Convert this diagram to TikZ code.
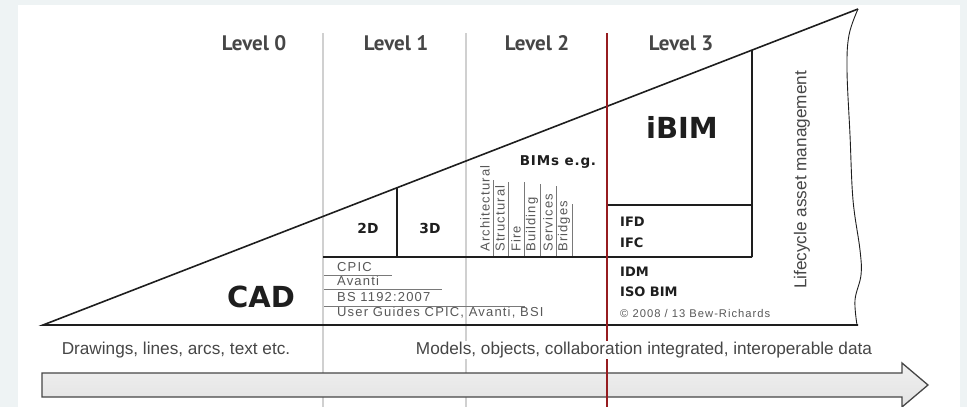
\documentclass[tikz,border=0pt]{standalone}
\usepackage{fontspec}
\setmainfont{Liberation Sans}
\newfontfamily\levelfont{PT Sans}
\newfontfamily\listfont[LetterSpace=9]{Liberation Sans}
\newfontfamily\tagfont{DejaVu Sans}
\newfontfamily\spacedtagfont[LetterSpace=6]{DejaVu Sans}
\usepackage{tikz}
\usetikzlibrary{calc}

\definecolor{bgblue}{RGB}{238,243,244}
\definecolor{bimred}{RGB}{150,28,32}
\definecolor{rulegray}{RGB}{208,208,208}
\definecolor{textgray}{RGB}{70,70,70}
\definecolor{listgray}{RGB}{88,88,88}
\definecolor{linedark}{RGB}{30,30,30}

\tikzset{
  levellabel/.style={font=\levelfont\bfseries\fontsize{21}{21}\selectfont, text=textgray},
  bigword/.style={font=\tagfont\bfseries\fontsize{29}{29}\selectfont, text=linedark},
  tagword/.style={font=\tagfont\bfseries\fontsize{13}{13}\selectfont, text=linedark, inner sep=0pt},
  listitem/.style={font=\listfont\fontsize{13}{13}\selectfont, text=listgray, anchor=west, inner sep=0pt},
  sideitem/.style={listitem, rotate=90},
  caption/.style={font=\fontsize{17.2}{17.2}\selectfont, text=textgray},
  frameline/.style={draw=linedark, line width=1.6pt},
  underline/.style={draw=listgray!80, line width=0.7pt},
}

\begin{document}
\begin{tikzpicture}[x=1pt, y=-1pt]
\useasboundingbox (0,0) rectangle (967,407);
\fill[bgblue] (0,0) rectangle (967,407);
\fill[white] (18,5) rectangle (960,407);

% level columns
\draw[rulegray, line width=1.8pt] (323,33) -- (323,407);
\draw[rulegray, line width=1.8pt] (466,33) -- (466,407);

\node[levellabel] (lv0) at (254,43) {Level 0};
\node[levellabel] (lv1) at (396,43) {Level 1};
\node[levellabel] (lv2) at (537,43) {Level 2};
\node[levellabel] (lv3) at (681,43) {Level 3};

% the wedge
\coordinate (cadtip) at (43,325);
\coordinate (apex) at (858,9);
\coordinate (baseend) at (858,325);
\draw[frameline] (baseend) -- (cadtip) -- (apex);
\draw[linedark, line width=0.9pt] plot[smooth, tension=0.6] coordinates
  {(858,9) (849,35) (847,70) (850,135) (853,200) (860,250) (861,275) (855,300) (857,325)};

\coordinate (cut1) at ($(cadtip)!0.4344!(apex)$);
\coordinate (cut3) at ($(cadtip)!0.8699!(apex)$);
\coordinate (floor) at (323,257);
\draw[frameline] (floor) -- (752,257);
\draw[frameline] (cut1) -- (cut1 |- floor);
\draw[frameline] (cut3) -- (752,257);
\draw[frameline] (607,205) -- (752,205);

\node[bigword] (cad) at (261,297) {CAD};
\node[tagword, font=\tagfont\bfseries\fontsize{13.8}{13.8}\selectfont] (twod) at (368,228) {2D};
\node[tagword, font=\tagfont\bfseries\fontsize{13.8}{13.8}\selectfont] (threed) at (430,228) {3D};
\node[tagword, font=\spacedtagfont\bfseries\fontsize{13.5}{13.5}\selectfont] (bims) at (558,162) {BIMs e.g.};
\node[bigword] (ibim) at (682,127) {iBIM};

% standards list
\node[listitem] (cpic) at (337,267) {CPIC};
\node[listitem] (avanti) at (337,281) {Avanti};
\node[listitem] (bs) at (337,297) {BS 1192:2007};
\node[listitem] (guides) at (337,313) {User Guides CPIC, Avanti, BSI};
\draw[underline] (324,275) -- (392,275);
\draw[underline] (324,289) -- (442,289);
\draw[underline] (324,306) -- (525,306);

% model types
\node[sideitem] (arch) at (485,252) {Architectural};
\node[sideitem] (struct) at (500,252) {Structural};
\node[sideitem] (fire) at (516,252) {Fire};
\node[sideitem] (build) at (532,252) {Building};
\node[sideitem] (serv) at (548,252) {Services};
\node[sideitem] (bridge) at (564,252) {Bridges};
\foreach \x/\top in {493/180, 508/182, 524/182, 540/184, 556/186, 572/204}
  \draw[underline] (\x,256) -- (\x,\top);

\node[tagword, anchor=west] (ifd) at (620,222) {IFD};
\node[tagword, anchor=west] (ifc) at (620,243) {IFC};
\node[tagword, anchor=west] (idm) at (620,272) {IDM};
\node[tagword, anchor=west] (isobim) at (620,292) {ISO BIM};
\node[listitem, font=\listfont\fontsize{11.2}{11.2}\selectfont] (copy) at (620,313) {\textcopyright{} 2008 / 13 Bew-Richards};

\node[caption, rotate=90] (lifecycle) at (802,180) {Lifecycle asset management};

% progress arrow
\draw[draw=textgray, line width=1.3pt, top color=gray!12, bottom color=gray!22]
  (42,373) -- (902,373) -- (902,363) -- (928,385) -- (902,407) -- (902,397) -- (42,397) -- cycle;

\draw[bimred, line width=2.6pt] (607,33) -- (607,407);

\node[caption] (drawings) at (176,350) {Drawings, lines, arcs, text etc.};
\node[caption, fill=white, inner sep=1pt] (models) at (644,350) {Models, objects, collaboration integrated, interoperable data};
\end{tikzpicture}
\end{document}
